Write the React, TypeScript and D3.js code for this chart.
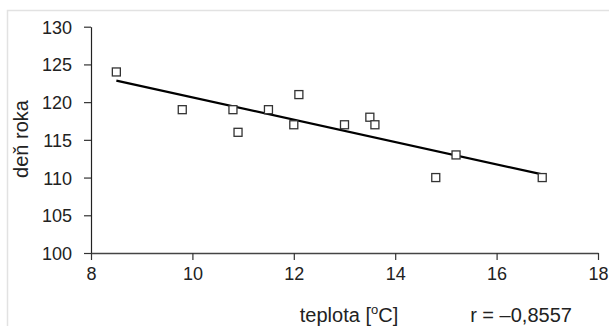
import * as d3 from "d3";
import React, { useEffect, useRef } from "react";

// teplota [°C] vs. deň roka
const teplota = [8.5, 9.8, 10.8, 10.9, 11.5, 12.0, 12.1, 13.0, 13.5, 13.6, 14.8, 15.2, 16.9];
const denRoka = [124, 119, 119, 116, 119, 117, 121, 117, 118, 117, 110, 113, 110];
const xTicks = [8, 10, 12, 14, 16, 18];
const yTicks = [100, 105, 110, 115, 120, 125, 130];
const rLabel = "r = \u20130,8557";

const W = 609,
  H = 326;

const App = () => {
  const svgRef = useRef(null);

  useEffect(() => {
    const margin = { top: 26.7, right: 11, bottom: 73, left: 91 };
    const svg = d3.select(svgRef.current).html("");
    const font = "'Liberation Sans', Arial, sans-serif";

    // light frame around the chart
    svg
      .append("rect")
      .attr("x", 7.5)
      .attr("y", 10.5)
      .attr("width", W)
      .attr("height", H)
      .attr("fill", "none")
      .attr("stroke", "#e2e2e2")
      .attr("stroke-width", 1.5);

    const x = d3.scaleLinear().domain([8, 18]).range([margin.left, W - margin.right]);
    const y = d3.scaleLinear().domain([100, 130]).range([H - margin.bottom, margin.top]);

    const yAxis = svg
      .append("g")
      .attr("transform", `translate(${margin.left},0)`)
      .call(d3.axisLeft(y).tickValues(yTicks).tickSize(7).tickSizeOuter(0).tickPadding(12));
    yAxis.select(".domain").attr("stroke", "#222").attr("stroke-width", 1.2);
    yAxis.selectAll(".tick line").attr("stroke", "#333").attr("stroke-width", 1.2);
    yAxis
      .selectAll(".tick text")
      .attr("font-family", font)
      .attr("font-size", 18)
      .attr("fill", "#222")
      .attr("dy", "0.36em");

    const xAxis = svg
      .append("g")
      .attr("transform", `translate(0,${y(100)})`)
      .call(d3.axisBottom(x).tickValues(xTicks).tickSize(7).tickSizeOuter(0).tickPadding(4));
    xAxis.select(".domain").attr("stroke", "#444").attr("stroke-width", 1.4);
    xAxis.selectAll(".tick line").attr("stroke", "#333").attr("stroke-width", 1.2);
    xAxis
      .selectAll(".tick text")
      .attr("font-family", font)
      .attr("font-size", 18)
      .attr("fill", "#222")
      .attr("dy", "0.9em");

    // least squares line
    const n = teplota.length;
    const mx = d3.mean(teplota);
    const my = d3.mean(denRoka);
    let sxy = 0,
      sxx = 0;
    for (let i = 0; i < n; i++) {
      sxy += (teplota[i] - mx) * (denRoka[i] - my);
      sxx += (teplota[i] - mx) ** 2;
    }
    const b = sxy / sxx;
    const a = my - b * mx;
    const ext = d3.extent(teplota);
    svg
      .append("path")
      .attr("d", d3.line()(ext.map((t) => [x(t), y(a + b * t)])))
      .attr("stroke", "#000")
      .attr("stroke-width", 2.2)
      .attr("fill", "none");

    const s = 8;
    svg
      .selectAll(".pt")
      .data(teplota.map((t, i) => [t, denRoka[i]]))
      .enter()
      .append("rect")
      .attr("class", "pt")
      .attr("x", (d) => x(d[0]) - s / 2)
      .attr("y", (d) => y(d[1]) - s / 2)
      .attr("width", s)
      .attr("height", s)
      .attr("fill", "#fff")
      .attr("stroke", "#333")
      .attr("stroke-width", 1.3);

    svg
      .append("text")
      .attr("transform", `translate(28,139) rotate(-90)`)
      .attr("text-anchor", "middle")
      .attr("font-family", font)
      .attr("font-size", 20)
      .attr("fill", "#222")
      .text("deň roka");

    const xt = svg
      .append("text")
      .attr("x", 349)
      .attr("y", 322)
      .attr("text-anchor", "middle")
      .attr("font-family", font)
      .attr("font-size", 20)
      .attr("fill", "#222");
    xt.append("tspan").text("teplota [");
    xt.append("tspan").attr("dy", -8).attr("font-size", 13).text("o");
    xt.append("tspan").attr("dy", 8).text("C]");

    svg
      .append("text")
      .attr("x", 521)
      .attr("y", 322)
      .attr("text-anchor", "middle")
      .attr("font-family", font)
      .attr("font-size", 20)
      .attr("fill", "#222")
      .text(rLabel);
  }, []);

  return (
    <svg
      ref={svgRef}
      width={W}
      height={H}
      style={{ position: "absolute", left: 0, top: 0, background: "#fff" }}
    ></svg>
  );
};

export default App;
